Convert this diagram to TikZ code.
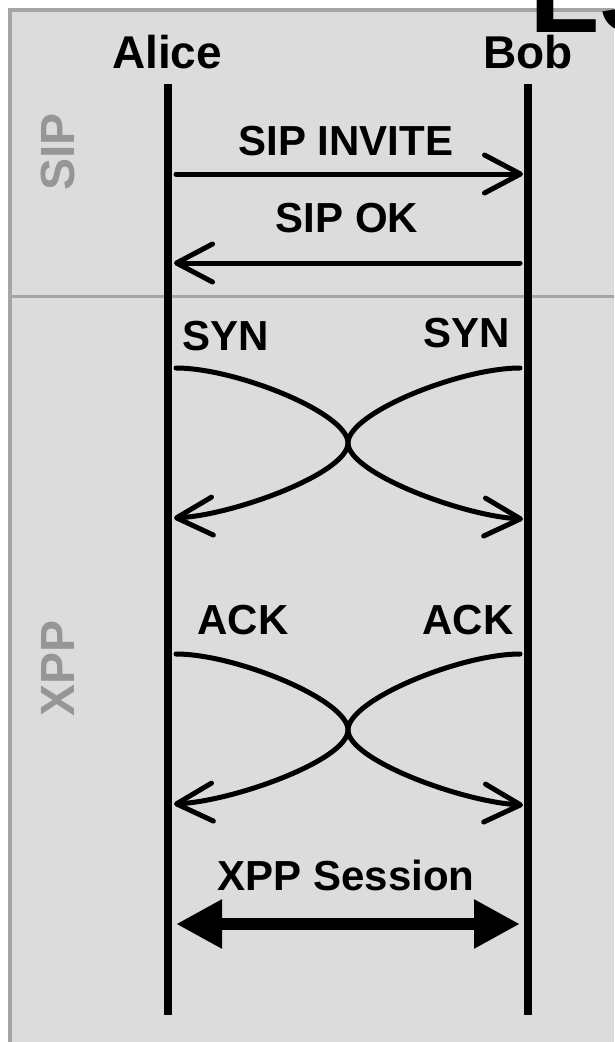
\documentclass[tikz,border=0pt]{standalone}
\usepackage{fontspec}
\setmainfont{Liberation Sans}
\usetikzlibrary{arrows.meta}
\definecolor{panelbg}{RGB}{219,220,219}
\definecolor{panelrule}{RGB}{165,165,165}
\definecolor{lanegray}{RGB}{150,150,150}
\tikzset{
  actor/.style={font=\fontsize{46}{50}\selectfont\bfseries,anchor=base,inner sep=0pt},
  msg/.style={font=\fontsize{42}{46}\selectfont\bfseries,anchor=base,inner sep=0pt},
  lanelabel/.style={font=\fontsize{48}{52}\selectfont\bfseries,text=lanegray,rotate=90,inner sep=0pt},
  life/.style={line width=8.5pt},
  sig/.style={line width=5pt,line cap=round,-{Straight Barb[length=36pt,width=38pt,round]}},
}
\begin{document}
\begin{tikzpicture}[x=1pt,y=-1pt]
\clip (0,0) rectangle (614,1042);
\draw[panelrule,fill=panelbg,line width=4pt] (10,10) rectangle (700,1100);
\draw[panelrule,line width=3pt] (10,296)--(700,296);
\node[anchor=base west,inner sep=0pt,font=\fontsize{115}{120}\selectfont\bfseries] (title) at (529.5,32) {LS};

\node[lanelabel] (sip) at (58,152) {SIP};
\node[lanelabel] (xpp) at (58,668) {XPP};

% lifelines
\node[actor] (alice) at (167,68) {Alice};
\node[actor] (bob) at (528,68) {Bob};
\coordinate (aliceTop) at (168,84);
\coordinate (aliceBot) at (168,1015);
\coordinate (bobTop) at (528,84);
\coordinate (bobBot) at (528,1015);
\draw[life] (aliceTop)--(aliceBot);
\draw[life] (bobTop)--(bobBot);

% SIP
\coordinate (a1) at (176,174);
\coordinate (b1) at (523,174);
\draw[sig] (a1)--(b1);
\node[msg] (invite) at (346,155) {SIP INVITE};
\coordinate (b2) at (520,263);
\coordinate (a2) at (174,263);
\draw[sig] (b2)--(a2);
\node[msg] (ok) at (347,232) {SIP OK};

% SYN
\node[msg] (synA) at (226,350) {SYN};
\node[msg] (synB) at (467,347) {SYN};
\coordinate (a3) at (176,368);
\coordinate (b3) at (520,368);
\coordinate (x3) at (348,443);
\coordinate (a4) at (174,518);
\coordinate (b4) at (523,519);
\draw[sig] (a3) .. controls +(60,0) and +(0,-30) .. (x3) .. controls +(0,30) and +(-60,-3) .. (b4);
\draw[sig] (b3) .. controls +(-60,0) and +(0,-30) .. (x3) .. controls +(0,30) and +(60,-3) .. (a4);

% ACK
\node[msg] (ackA) at (243,634) {ACK};
\node[msg] (ackB) at (468,634) {ACK};
\coordinate (a5) at (176,654);
\coordinate (b5) at (520,654);
\coordinate (x5) at (348,730);
\coordinate (a6) at (174,804);
\coordinate (b6) at (523,805);
\draw[sig] (a5) .. controls +(60,0) and +(0,-30) .. (x5) .. controls +(0,30) and +(-60,-3) .. (b6);
\draw[sig] (b5) .. controls +(-60,0) and +(0,-30) .. (x5) .. controls +(0,30) and +(60,-3) .. (a6);

% session
\node[msg] (sess) at (346,890) {XPP Session};
\coordinate (a7) at (176,924);
\coordinate (b7) at (520,924);
\draw[line width=12pt,{Triangle[length=46pt,width=46pt]}-{Triangle[length=46pt,width=46pt]}] (a7)--(b7);
\end{tikzpicture}
\end{document}
